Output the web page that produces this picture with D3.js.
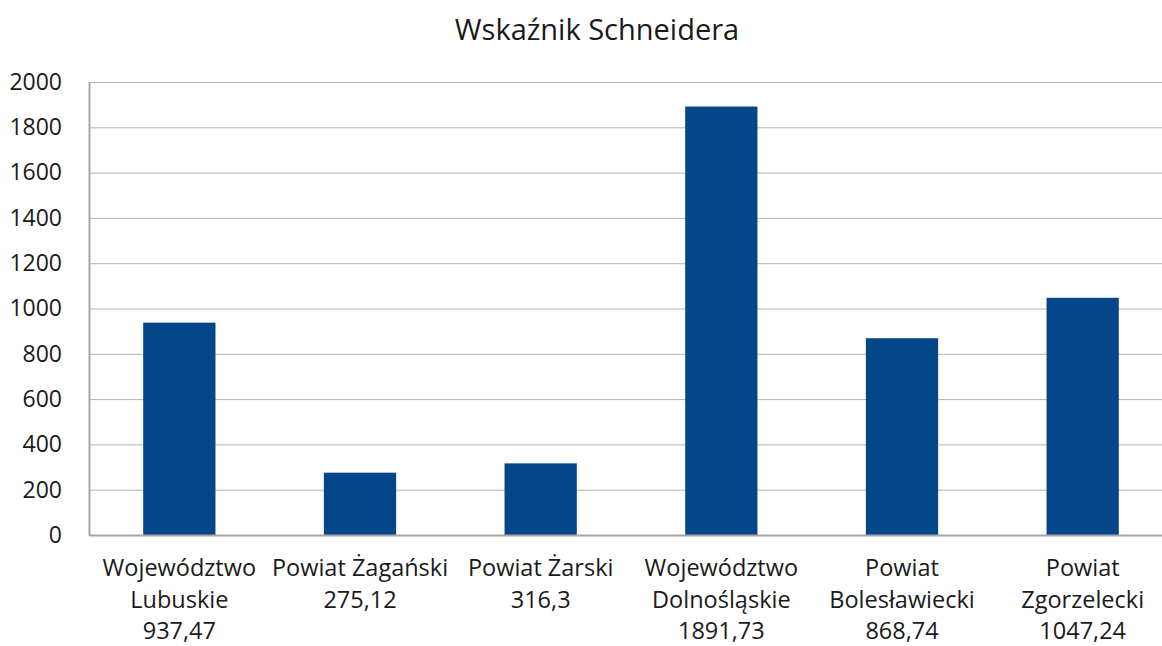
<!DOCTYPE html>
<html>
<head>
<meta charset="utf-8">
<script src="https://cdn.jsdelivr.net/npm/d3@7"></script>
<style>
    body { margin: 0; background: #fff; }
    #chart-container { width: 1162px; height: 646px; overflow: hidden; }
    text { font-family: "Open Sans", "Noto Sans", sans-serif; fill: #1a1a1a; }
</style>
</head>
<body>
<div id="chart-container"></div>
<script>
const title = "Wskaźnik Schneidera";
const categories = [
    ["Województwo", "Lubuskie"],
    ["Powiat Żagański"],
    ["Powiat Żarski"],
    ["Województwo", "Dolnośląskie"],
    ["Powiat", "Bolesławiecki"],
    ["Powiat", "Zgorzelecki"]
];
const values = [937.47, 275.12, 316.3, 1891.73, 868.74, 1047.24];
const yTicks = [0, 200, 400, 600, 800, 1000, 1200, 1400, 1600, 1800, 2000];

const totalWidth = 1162;
const totalHeight = 646;
const margin = { top: 82, right: -11, bottom: 111, left: 89 };
const width = totalWidth - margin.left - margin.right;
const height = totalHeight - margin.top - margin.bottom;

const svg = d3.select("#chart-container")
    .append("svg")
    .attr("width", totalWidth)
    .attr("height", totalHeight);

svg.append("text")
    .attr("x", 597)
    .attr("y", 40)
    .attr("text-anchor", "middle")
    .style("font-size", "29px")
    .text(title);

const g = svg.append("g")
    .attr("transform", `translate(${margin.left},${margin.top})`);

const xScale = d3.scaleBand()
    .domain(d3.range(categories.length))
    .range([0, width])
    .paddingInner(0.6)
    .paddingOuter(0.3);

const yScale = d3.scaleLinear()
    .domain([0, 2000])
    .range([height, 0]);

// gridlines
g.selectAll(".grid")
    .data(yTicks.filter(d => d > 0))
    .enter()
    .append("line")
    .attr("x1", 0)
    .attr("x2", width)
    .attr("y1", d => yScale(d) + 0.5)
    .attr("y2", d => yScale(d) + 0.5)
    .style("stroke", "#b3b3b3")
    .style("stroke-width", 1);

// bars
g.selectAll(".bar")
    .data(values)
    .enter()
    .append("rect")
    .attr("class", "bar")
    .attr("x", (d, i) => xScale(i))
    .attr("width", xScale.bandwidth())
    .attr("y", d => yScale(d))
    .attr("height", d => height - yScale(d))
    .style("fill", "#03468a");

// y axis
const yAxis = g.append("g")
    .call(d3.axisLeft(yScale).tickValues(yTicks).tickFormat(d3.format("d")).tickSize(0).tickPadding(27));
yAxis.select(".domain")
    .attr("d", `M0.5,0V${height + 0.5}`)
    .style("stroke", "#a6a6a6")
    .style("stroke-width", 2);
yAxis.selectAll("text")
    .style("font-size", "23px")
    .style("font-family", "'Open Sans', sans-serif")
    .style("fill", "#1a1a1a");

// x axis line
g.append("line")
    .attr("x1", 0)
    .attr("x2", width)
    .attr("y1", height + 0.5)
    .attr("y2", height + 0.5)
    .style("stroke", "#a6a6a6")
    .style("stroke-width", 2);

// category labels
const labels = g.selectAll(".cat")
    .data(categories)
    .enter()
    .append("text")
    .attr("class", "cat")
    .attr("text-anchor", "middle")
    .attr("transform", (d, i) => `translate(${xScale(i) + xScale.bandwidth() / 2},${height + 41})`)
    .style("font-size", "23.5px");

labels.each(function(d, i) {
    const lines = d.concat([String(values[i]).replace(".", ",")]);
    d3.select(this).selectAll("tspan")
        .data(lines)
        .enter()
        .append("tspan")
        .attr("x", 0)
        .attr("y", (l, j) => j * 31.5)
        .text(l => l);
});
</script>
</body>
</html>
